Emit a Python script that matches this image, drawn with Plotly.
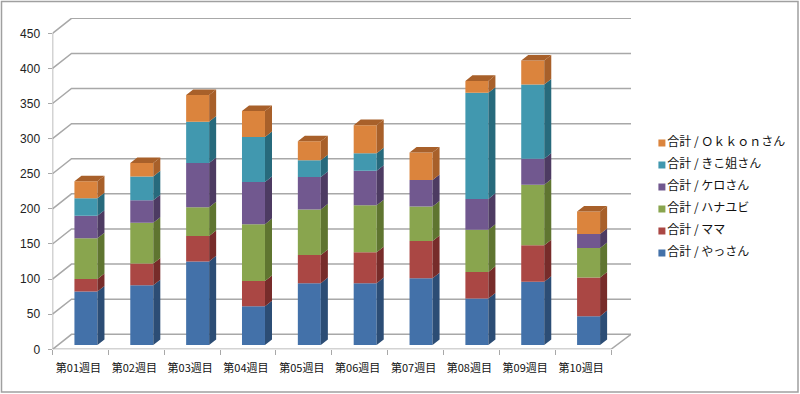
import plotly.graph_objects as go

categories = ["第01週目", "第02週目", "第03週目", "第04週目", "第05週目",
              "第06週目", "第07週目", "第08週目", "第09週目", "第10週目"]
yattsan = [76, 85, 119, 55, 88, 88, 95, 66, 90, 41]
mama = [18, 31, 36, 36, 40, 44, 53, 38, 52, 55]
hanabi = [58, 58, 41, 81, 65, 67, 49, 60, 86, 42]
kero = [32, 32, 63, 60, 46, 49, 38, 44, 37, 20]
kiko = [25, 34, 59, 64, 24, 25, 0, 151, 106, 0]
okkon = [24, 19, 38, 37, 27, 40, 39, 17, 34, 32]

series_names = ["合計 / やっさん", "合計 / ママ", "合計 / ハナユビ", "合計 / ケロさん",
                "合計 / きこ姐さん", "合計 / Ｏｋｋｏｎさん"]
series_values = [yattsan, mama, hanabi, kero, kiko, okkon]
front_colors = ["#4371A9", "#AA4744", "#89A54E", "#71588F", "#4198AF", "#DB843D"]
side_colors = ["#2C4D75", "#772C2A", "#5F7530", "#4D3B62", "#276A7C", "#A8602A"]
top_color = "#A8602A"
y_ticks = list(range(0, 451, 50))

W, H = 800, 394
PX_L, PX_R, PX_T, PX_B = 52.5, 631.0, 18.0, 349.3
PX_PER_CAT = 55.85
PX_PER_UNIT = (349.3 - 33.3) / 450
DEPTH_X_PX, DEPTH_Y_PX = 19.0, 15.0
dx = DEPTH_X_PX / PX_PER_CAT
dy = DEPTH_Y_PX / PX_PER_UNIT
x_max = (PX_R - PX_L) / PX_PER_CAT
y_max = (PX_B - PX_T) / PX_PER_UNIT
n = len(categories)

# bar placement inside the floor depth (fractions of the depth)
D_FRONT, D_BACK = 0.29, 0.66
bar_w = 23.0 / PX_PER_CAT
GRID = "#A8A8A8"

fig = go.Figure()

# grid + walls (base axes, beneath the bars)
gx, gy = [], []
for v in y_ticks:
    gx += [0, dx, x_max, None]
    gy += [v, v + dy, v + dy, None]
gx += [0, 0, None, 0, n, x_max - 0, None]
gy += [0, 450, None, 0, 0, dy, None]
fig.add_trace(go.Scatter(x=gx, y=gy, mode="lines", line=dict(color=GRID, width=1.5),
                         hoverinfo="skip", showlegend=False, cliponaxis=False))

# stacked columns on an overlay pair of axes
cum = [0.0] * n
for k, (name, vals) in enumerate(zip(series_names, series_values)):
    base = [c + dy * D_FRONT for c in cum]
    centers = [i + 0.5 + dx * D_FRONT for i in range(n)]
    fig.add_trace(go.Bar(x=centers, y=vals, base=base, width=bar_w, name=name,
                         marker=dict(color=front_colors[k], line=dict(width=0)),
                         xaxis="x2", yaxis="y2", showlegend=False))
    sx, sy = [], []
    depth = D_BACK - D_FRONT
    for i in range(n):
        if vals[i] <= 0:
            continue
        xr = centers[i] + bar_w / 2
        y0, y1 = base[i], base[i] + vals[i]
        sx += [xr, xr, xr + dx * depth, xr + dx * depth, xr, None]
        sy += [y0, y1, y1 + dy * depth, y0 + dy * depth, y0, None]
    fig.add_trace(go.Scatter(x=sx, y=sy, mode="lines", fill="toself", fillcolor=side_colors[k],
                             line=dict(width=0), xaxis="x2", yaxis="y2",
                             hoverinfo="skip", showlegend=False))
    cum = [c + v for c, v in zip(cum, vals)]

# top caps
tx, ty = [], []
depth = D_BACK - D_FRONT
for i in range(n):
    xl = i + 0.5 + dx * D_FRONT - bar_w / 2
    xr = xl + bar_w
    yt = cum[i] + dy * D_FRONT
    tx += [xl, xr, xr + dx * depth, xl + dx * depth, xl, None]
    ty += [yt, yt, yt + dy * depth, yt + dy * depth, yt, None]
fig.add_trace(go.Scatter(x=tx, y=ty, mode="lines", fill="toself", fillcolor=top_color,
                         line=dict(width=0), xaxis="x2", yaxis="y2",
                         hoverinfo="skip", showlegend=False))

# legend, drawn as marker + label on its own axes
for k, name in enumerate(series_names):
    fig.add_trace(go.Scatter(x=[0], y=[k], mode="markers+text", text=[name],
                             textposition="middle right", name=name,
                             marker=dict(symbol="square", size=7, color=front_colors[k]),
                             textfont=dict(family="Noto Sans CJK JP", size=12, color="#111111"),
                             xaxis="x3", yaxis="y3", showlegend=False, cliponaxis=False))

dom_x = [PX_L / W, PX_R / W]
dom_y = [(H - PX_B) / H, (H - PX_T) / H]
fig.update_layout(
    width=W, height=H, margin=dict(l=0, r=0, t=0, b=0),
    paper_bgcolor="white", plot_bgcolor="rgba(0,0,0,0)",
    barmode="overlay", showlegend=False,
    font=dict(family="Noto Sans CJK JP", color="#111111"),
    xaxis=dict(domain=dom_x, range=[0, x_max], showgrid=False, zeroline=False, showline=False,
               automargin=False,
               tickmode="array", tickvals=[i + 0.5 for i in range(n)], ticktext=categories,
               ticks="", ticklabelshift=-2, ticklabelstandoff=11,
               tickfont=dict(family="Noto Sans CJK JP", size=11, color="#111111"),
               minor=dict(tickmode="array", tickvals=list(range(n + 1)), ticks="outside",
                          ticklen=5, tickwidth=1.2, tickcolor=GRID, showgrid=False)),
    yaxis=dict(domain=dom_y, range=[0, y_max], showgrid=False, zeroline=False, showline=False,
               automargin=False,
               tickmode="array", tickvals=y_ticks, ticks="outside", ticklen=4, tickwidth=1.2,
               tickcolor=GRID, ticklabelstandoff=5,
               tickfont=dict(family="Liberation Sans", size=12, color="#222222")),
    xaxis2=dict(overlaying="x", matches="x", range=[0, x_max], visible=False, automargin=False),
    yaxis2=dict(overlaying="y", matches="y", range=[0, y_max], visible=False, automargin=False),
    xaxis3=dict(domain=[658.5 / W, 799 / W], range=[-0.0249, 1], visible=False, anchor="y3", automargin=False),
    yaxis3=dict(domain=[(H - 264) / H, (H - 132) / H], range=[-0.5, 5.5], visible=False, anchor="x3", automargin=False),
    shapes=[dict(type="rect", xref="paper", yref="paper", x0=1.5 / W, x1=798 / W,
                 y0=(H - 392) / H, y1=(H - 1.5) / H,
                 line=dict(color="#A0A0A0", width=1.5), fillcolor="rgba(0,0,0,0)", layer="below")],
)

fig.write_html("out.html", config={"displayModeBar": False},
               post_script="document.body.style.margin='0';document.body.style.overflow='hidden';")
